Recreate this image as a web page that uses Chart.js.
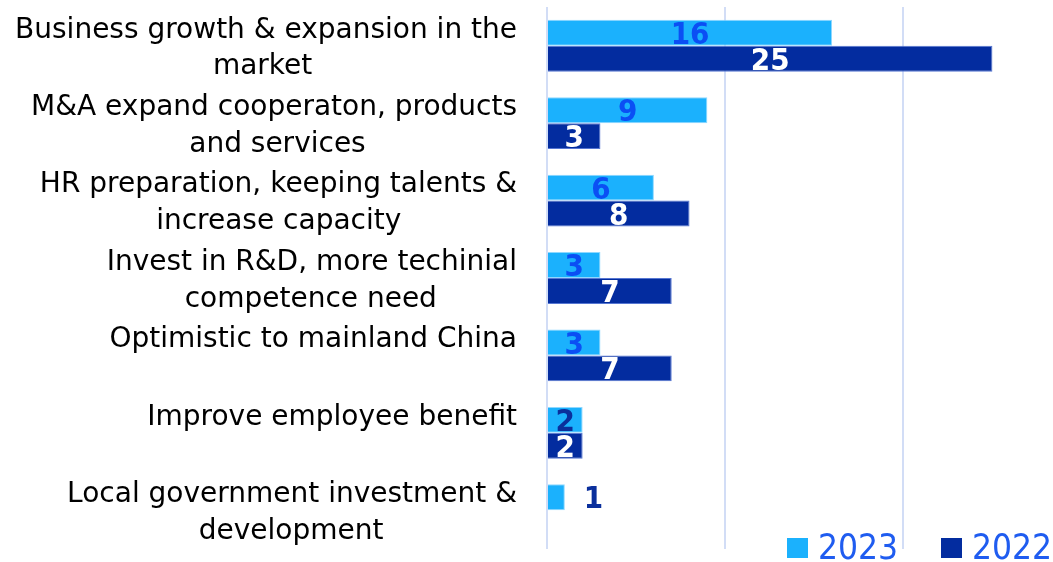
<!DOCTYPE html>
<html>
<head>
<meta charset="utf-8">
<script src="https://cdn.jsdelivr.net/npm/chart.js@4/dist/chart.umd.min.js"></script>
<style>
  body { margin: 0; background: #fff; }
  #wrap { width: 1053px; height: 562px; position: relative; }
</style>
</head>
<body>
<div id="wrap"><canvas id="barChartReasons"></canvas></div>
<script>
// categories (second line '' keeps single-line labels where the original puts them)
var categories = [
    ['Business growth & expansion in the', 'market'],
    ['M&A expand cooperaton, products', 'and services'],
    ['HR preparation, keeping talents &', 'increase capacity'],
    ['Invest in R&D, more techinial', 'competence need'],
    ['Optimistic to mainland China', ''],
    ['Improve employee benefit', ''],
    ['Local government investment &', 'development']
];
var seriesNames = ['2023', '2022'];
var values2023 = [16, 9, 6, 3, 3, 2, 1];
var values2022 = [25, 3, 8, 7, 7, 2, 0];
var gridTicks = [0, 10, 20];

var labelFont = "'DejaVu Sans', sans-serif";
var condFont = "'DejaVu Sans Condensed', 'DejaVu Sans', sans-serif";

// pad the 2nd line with spaces so it sits centred under the 1st one (labels are right aligned)
var mctx = document.createElement('canvas').getContext('2d');
mctx.font = "28px " + labelFont;
var spaceW = mctx.measureText(' ').width;
var yLabels = categories.map(function (lines) {
    if (!lines[1]) return lines;
    var w1 = mctx.measureText(lines[0]).width;
    var w2 = mctx.measureText(lines[1]).width;
    var n = Math.round((w1 - w2) / 2 / spaceW);
    return [lines[0], lines[1] + ' '.repeat(Math.max(0, n))];
});

// nudge the category labels a few px down, like the original
var labelNudge = {
    id: 'labelNudge',
    beforeDraw: function (chart) {
        var s = chart.scales.y;
        if (s._nudged) return;
        var orig = s.drawLabels;
        s.drawLabels = function (area) {
            var ctx = this.ctx;
            ctx.save();
            ctx.translate(0, 3);
            orig.call(this, area);
            ctx.restore();
        };
        s._nudged = true;
    }
};

// value labels drawn on the bars
var valueLabels = {
    id: 'valueLabels',
    afterDatasetsDraw: function (chart) {
        var ctx = chart.ctx;
        ctx.save();
        ctx.font = "bold 31px " + condFont;
        ctx.textBaseline = 'middle';
        chart.data.datasets.forEach(function (ds, di) {
            var meta = chart.getDatasetMeta(di);
            meta.data.forEach(function (bar, i) {
                var v = ds.data[i];
                if (!v) return;
                var p = bar.getProps(['x', 'y', 'base'], true);
                var txt = String(v);
                var tw = ctx.measureText(txt).width;
                ctx.fillStyle = ds.labelColors[i];
                if (p.x - p.base < tw + 2) {
                    ctx.textAlign = 'left';
                    ctx.fillStyle = '#0A2F9C';
                    ctx.fillText(txt, p.x + 19, p.y + 3);
                } else {
                    ctx.textAlign = 'center';
                    ctx.fillText(txt, (p.x + p.base) / 2, p.y + 3);
                }
            });
        });
        ctx.restore();
    }
};

// legend at the bottom right, over the plot
var cornerLegend = {
    id: 'cornerLegend',
    afterDraw: function (chart) {
        var ctx = chart.ctx;
        var spots = [787, 941];
        ctx.save();
        ctx.font = "35px " + condFont;
        ctx.textBaseline = 'alphabetic';
        ctx.textAlign = 'left';
        chart.data.datasets.forEach(function (ds, di) {
            var x = spots[di];
            ctx.fillStyle = ds.backgroundColor;
            ctx.fillRect(x, 538, 21, 20);
            ctx.fillStyle = '#1F5CF0';
            ctx.fillText(ds.label, x + 31, 559);
        });
        ctx.restore();
    }
};

var chartDiv = document.getElementById('barChartReasons');
var myChart = new Chart(chartDiv, {
    type: 'bar',
    data: {
        labels: yLabels,
        datasets: [
            {
                label: seriesNames[0],
                data: values2023,
                backgroundColor: '#1BB1FD',
                borderColor: '#8ED8FF',
                borderWidth: 1,
                labelColors: ['#0B4FF4', '#0B4FF4', '#0B4FF4', '#0B4FF4', '#0B4FF4', '#0A2F9C', '#0A2F9C']
            },
            {
                label: seriesNames[1],
                data: values2022,
                backgroundColor: '#032C9F',
                borderColor: '#5676D2',
                borderWidth: 1,
                labelColors: ['#FFFFFF', '#FFFFFF', '#FFFFFF', '#FFFFFF', '#FFFFFF', '#FFFFFF', '#FFFFFF']
            }
        ]
    },
    options: {
        indexAxis: 'y',
        responsive: true,
        maintainAspectRatio: false,
        animation: false,
        layout: { padding: { top: 7, bottom: 13, left: 0, right: 0 } },
        datasets: {
            bar: { categoryPercentage: 0.67, barPercentage: 1 }
        },
        plugins: {
            legend: { display: false },
            tooltip: { enabled: false }
        },
        scales: {
            x: {
                min: 0,
                max: 28.4,
                ticks: { display: false, stepSize: 10 },
                afterBuildTicks: function (scale) {
                    scale.ticks = gridTicks.map(function (v) { return { value: v }; });
                },
                afterFit: function (scale) {
                    scale.paddingLeft = 0;
                    scale.paddingRight = 0;
                },
                grid: { color: '#D2DDF6', lineWidth: 2, drawTicks: false },
                border: { display: false }
            },
            y: {
                afterFit: function (scale) {
                    scale.width = 547;
                    scale.paddingTop = 0;
                    scale.paddingBottom = 0;
                },
                ticks: {
                    color: '#000000',
                    padding: 30,
                    crossAlign: 'near',
                    font: { family: labelFont, size: 28, lineHeight: 1.32 }
                },
                grid: { display: false, drawTicks: false },
                border: { display: false }
            }
        }
    },
    plugins: [labelNudge, valueLabels, cornerLegend]
});
</script>
</body>
</html>
